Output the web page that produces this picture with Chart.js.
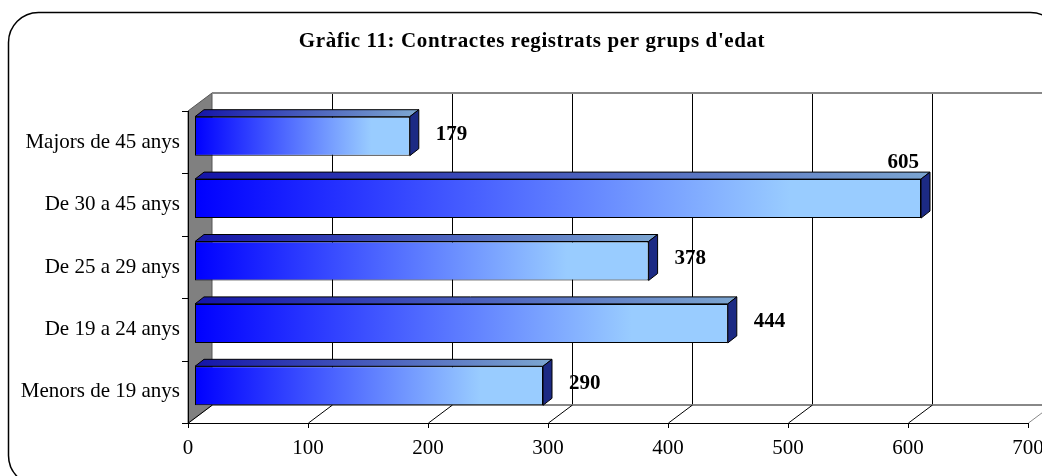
<!DOCTYPE html>
<html lang="ca">
<head>
    <title>Gràfic 11</title>
    <meta charset="UTF-8">
    <script src="https://cdn.jsdelivr.net/npm/chart.js"></script>
    <style>
        html, body { margin: 0; padding: 0; background: #fff; }
        #chart { display: block; }
    </style>
</head>
<body>
    <canvas id="chart" width="1042" height="476"></canvas>
    <script>
        // Dades del gràfic
        var grups = ['Majors de 45 anys', 'De 30 a 45 anys', 'De 25 a 29 anys', 'De 19 a 24 anys', 'Menors de 19 anys'];
        var contractes = [179, 605, 378, 444, 290];
        var xMin = 0, xMax = 700, xPas = 100;
        var titol = "Gràfic 11: Contractes registrats per grups d'edat";

        // Efecte 3D
        var DX = 24, DY = -18;   // fons de les parets
        var BX = 7, BY = -6;     // cara frontal de les barres
        var TX = 9, TY = -7;     // gruix de les barres
        var serif = "'Liberation Serif', 'DejaVu Serif', serif";

        var fonsPlugin = {
            id: 'fons',
            beforeDraw: function (chart) {
                var ctx = chart.ctx;
                ctx.save();
                ctx.fillStyle = '#fff';
                ctx.fillRect(0, 0, chart.width, chart.height);
                // marc arrodonit
                ctx.beginPath();
                ctx.roundRect(8.5, 12.5, 1052, 473, 30);
                ctx.lineWidth = 1.5;
                ctx.strokeStyle = '#000';
                ctx.stroke();
                // títol
                ctx.fillStyle = '#000';
                ctx.font = 'bold 21px ' + serif;
                ctx.letterSpacing = '0.6px';
                ctx.textAlign = 'center';
                ctx.textBaseline = 'alphabetic';
                ctx.fillText(titol, 532, 47);
                ctx.restore();
            },
            beforeDatasetsDraw: function (chart) {
                var ctx = chart.ctx, a = chart.chartArea, xs = chart.scales.x;
                var l = a.left, r = a.right, t = a.top, b = a.bottom;
                ctx.save();
                // paret lateral grisa
                ctx.beginPath();
                ctx.moveTo(l, b); ctx.lineTo(l, t); ctx.lineTo(l + DX, t + DY); ctx.lineTo(l + DX, b + DY); ctx.closePath();
                ctx.fillStyle = '#808080';
                ctx.fill();
                ctx.strokeStyle = '#555';
                ctx.lineWidth = 1;
                ctx.stroke();
                // línies de la paret del fons
                ctx.strokeStyle = '#000';
                for (var v = xMin + xPas; v <= xMax; v += xPas) {
                    var px = Math.round(xs.getPixelForValue(v)) + 0.5;
                    ctx.beginPath();
                    ctx.moveTo(px + DX, t + DY); ctx.lineTo(px + DX, b + DY);
                    ctx.stroke();
                }
                // vores grises superior i inferior del fons
                ctx.strokeStyle = '#888';
                ctx.lineWidth = 2;
                ctx.beginPath();
                ctx.moveTo(l + DX, t + DY); ctx.lineTo(r + DX, t + DY);
                ctx.moveTo(l + DX, b + DY); ctx.lineTo(r + DX, b + DY);
                ctx.stroke();
                // terra: diagonals
                ctx.lineWidth = 1;
                for (var v2 = xMin; v2 <= xMax; v2 += xPas) {
                    var p2 = Math.round(xs.getPixelForValue(v2)) + 0.5;
                    ctx.strokeStyle = v2 === xMax ? '#888' : '#000';
                    ctx.beginPath();
                    ctx.moveTo(p2, b); ctx.lineTo(p2 + DX, b + DY);
                    ctx.stroke();
                    // marca de l'eix
                    ctx.strokeStyle = '#000';
                    ctx.beginPath();
                    ctx.moveTo(p2, b); ctx.lineTo(p2, b + 5);
                    ctx.stroke();
                }
                // eix horitzontal frontal
                ctx.beginPath();
                ctx.moveTo(l, b + 0.5); ctx.lineTo(r, b + 0.5);
                ctx.stroke();
                // eix vertical i marques de categoria
                ctx.beginPath();
                ctx.moveTo(l + 0.5, t); ctx.lineTo(l + 0.5, b);
                var banda = (b - t) / grups.length;
                for (var i = 0; i <= grups.length; i++) {
                    var py = Math.round(t + i * banda) + 0.5;
                    ctx.moveTo(l - 6, py); ctx.lineTo(l, py);
                }
                ctx.stroke();
                ctx.restore();
                // desplaçar les barres cap al fons
                ctx.save();
                ctx.translate(BX, BY);
            },
            afterDatasetsDraw: function (chart) {
                var ctx = chart.ctx;
                ctx.restore();
                ctx.save();
                var meta = chart.getDatasetMeta(0);
                meta.data.forEach(function (bar, i) {
                    var x0 = bar.base + BX, x1 = bar.x + BX;
                    var top = bar.y - bar.height / 2 + BY, bot = bar.y + bar.height / 2 + BY;
                    // cara superior
                    var g = ctx.createLinearGradient(x0, 0, x1, 0);
                    g.addColorStop(0, '#1414a8');
                    g.addColorStop(1, '#7aa3d0');
                    ctx.beginPath();
                    ctx.moveTo(x0, top); ctx.lineTo(x1, top);
                    ctx.lineTo(x1 + TX, top + TY); ctx.lineTo(x0 + TX, top + TY);
                    ctx.closePath();
                    ctx.fillStyle = g;
                    ctx.fill();
                    ctx.strokeStyle = '#000';
                    ctx.lineWidth = 1;
                    ctx.stroke();
                    // cara lateral
                    ctx.beginPath();
                    ctx.moveTo(x1, top); ctx.lineTo(x1 + TX, top + TY);
                    ctx.lineTo(x1 + TX, bot + TY); ctx.lineTo(x1, bot);
                    ctx.closePath();
                    ctx.fillStyle = '#1c2a84';
                    ctx.fill();
                    ctx.stroke();
                    // etiqueta de valor
                    var txt = String(contractes[i]);
                    ctx.font = 'bold 21px ' + serif;
                    ctx.fillStyle = '#000';
                    ctx.textBaseline = 'middle';
                    var w = ctx.measureText(txt).width;
                    var lx = x1 + TX + 17;
                    if (lx + w > chart.chartArea.right - 80) {
                        ctx.textAlign = 'right';
                        ctx.fillText(txt, x1 - 2, top + TY - 10);
                    } else {
                        ctx.textAlign = 'left';
                        ctx.fillText(txt, lx, (top + bot) / 2 - 2);
                    }
                });
                ctx.restore();
            }
        };

        function degradat(c) {
            var xs = c.chart.scales.x;
            if (!xs || c.raw === undefined) return '#0000ff';
            var x0 = xs.getPixelForValue(0), x1 = xs.getPixelForValue(c.raw);
            if (!isFinite(x0) || !isFinite(x1) || x1 === x0) return '#0000ff';
            var g = c.chart.ctx.createLinearGradient(x0, 0, x1, 0);
            g.addColorStop(0, '#0000ff');
            g.addColorStop(0.82, '#99ccff');
            g.addColorStop(1, '#99ccff');
            return g;
        }

        var ctx = document.getElementById('chart').getContext('2d');
        var chart = new Chart(ctx, {
            type: 'bar',
            data: {
                labels: grups,
                datasets: [{
                    data: contractes,
                    backgroundColor: degradat,
                    borderColor: '#000',
                    borderWidth: 1,
                    borderSkipped: false,
                    categoryPercentage: 1,
                    barPercentage: 0.625,
                    clip: false
                }]
            },
            options: {
                indexAxis: 'y',
                responsive: false,
                animation: false,
                layout: { padding: { left: 0, right: 14, top: 111, bottom: 0 } },
                plugins: { legend: { display: false }, tooltip: { enabled: false } },
                scales: {
                    x: {
                        min: xMin, max: xMax,
                        grid: { display: false, drawTicks: false },
                        border: { display: false },
                        ticks: { stepSize: xPas, padding: 13, maxRotation: 0, color: '#000', font: { family: serif, size: 21 } },
                        afterFit: function (s) { s.height = 53; s.paddingLeft = 0; s.paddingRight = 0; }
                    },
                    y: {
                        grid: { display: false, drawTicks: false },
                        border: { display: false },
                        ticks: { padding: 8, color: '#000', font: { family: serif, size: 21 } },
                        afterFit: function (s) { s.width = 188; s.paddingTop = 0; s.paddingBottom = 0; }
                    }
                }
            },
            plugins: [fonsPlugin]
        });
    </script>
</body>
</html>
